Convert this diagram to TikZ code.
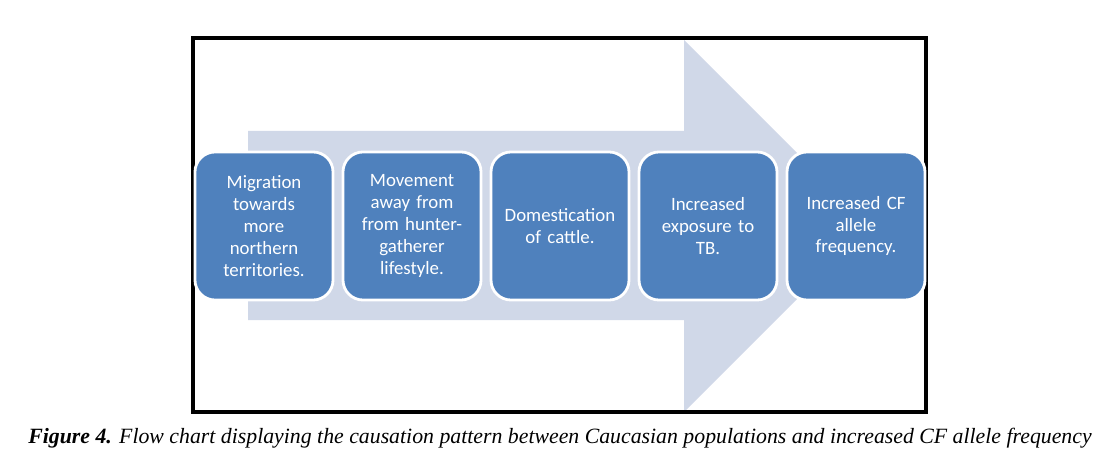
\documentclass[tikz,border=0pt]{standalone}
\usepackage{fontspec}
\setmainfont{Liberation Serif}
\newfontfamily\boxfont{Carlito}
\usepackage{tikz}
\usetikzlibrary{positioning}

\definecolor{stageblue}{HTML}{4F81BD}
\definecolor{arrowgrey}{HTML}{D0D8E8}

\begin{document}
\begin{tikzpicture}[x=0.025cm, y=-0.025cm]
\tikzstyle{stage}=[draw=white, fill=stageblue, line width=2pt, rounded corners=0.5cm,
  minimum width=3.45cm, minimum height=3.7cm, text width=3.2cm, align=center,
  text=white, font=\boxfont\fontsize{13.4}{15.6}\selectfont]
\useasboundingbox (0,0) rectangle (1104,452);
% big background arrow
\fill[arrowgrey] (248,131) -- (684,131) -- (684,40) -- (870,226) -- (684,412)
  -- (684,320) -- (248,320) -- cycle;
% frame
\draw[line width=0.1cm] (193,38) rectangle (926,412);
% stages
\node[stage] (s1) at (264,226) {Migration\\towards\\more\\northern\\territories.};
\node[stage] (s2) at (412,226) {Movement\\away from\\from hunter-\\gatherer\\lifestyle.};
\node[stage] (s3) at (560,226) {Domestication\\of cattle.};
\node[stage] (s4) at (708,226) {Increased\\exposure to\\TB.};
\node[stage] (s5) at (856,226) {Increased CF\\allele\\frequency.};
% caption
\node[anchor=base, font=\fontsize{15.5}{17}\selectfont\itshape] (cap) at (560,443)
  {\textbf{Figure 4.} Flow chart displaying the causation pattern between Caucasian populations and increased CF allele frequency};
\end{tikzpicture}
\end{document}
